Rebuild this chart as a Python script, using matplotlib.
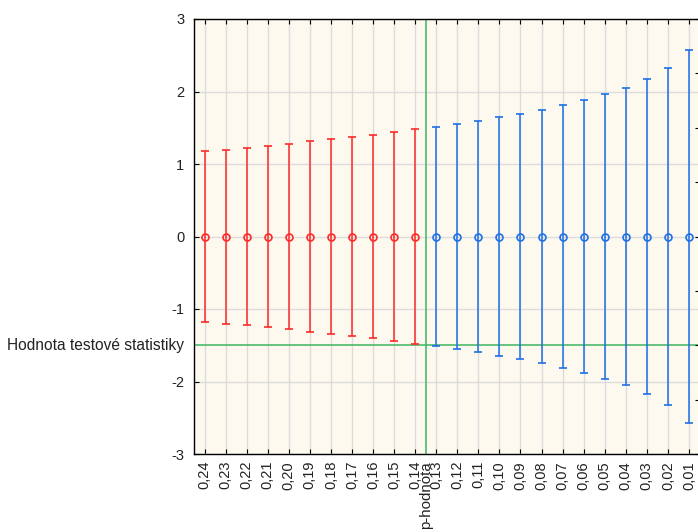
import matplotlib
matplotlib.use("Agg")
import matplotlib.pyplot as plt
import numpy as np

plt.rcParams['font.family'] = ['Liberation Sans', 'DejaVu Sans']
plt.rcParams['axes.unicode_minus'] = False

categories = ["0,24", "0,23", "0,22", "0,21", "0,20", "0,19", "0,18", "0,17", "0,16", "0,15", "0,14",
              "0,13", "0,12", "0,11", "0,10", "0,09", "0,08", "0,07", "0,06", "0,05", "0,04", "0,03", "0,02", "0,01"]
centers = [0.0] * 24
half_widths = [1.175, 1.200, 1.227, 1.254, 1.282, 1.311, 1.341, 1.372, 1.405, 1.440, 1.476,
               1.514, 1.555, 1.598, 1.645, 1.695, 1.751, 1.812, 1.881, 1.960, 2.054, 2.170, 2.326, 2.576]
n_red = 11
test_stat = -1.5
p_label = "p-hodnota"
stat_label = "Hodnota testové statistiky"

fig = plt.figure(figsize=(6.98, 5.32), dpi=100)
ax = fig.add_axes([194/698, 1 - 454/532, 505.5/698, 435/532])
ax.set_facecolor('#fdf9ee')

x = np.arange(len(categories))
red = '#ff2a2a'
blue = '#1f6fe6'
ax.errorbar(x[:n_red], centers[:n_red], yerr=half_widths[:n_red], fmt='o', color=red,
            mfc='none', mec=red, ms=5, mew=1.2, elinewidth=1.1, capsize=3.2, capthick=1.1, zorder=3)
ax.errorbar(x[n_red:], centers[n_red:], yerr=half_widths[n_red:], fmt='o', color=blue,
            mfc='none', mec=blue, ms=5, mew=1.2, elinewidth=1.1, capsize=3.2, capthick=1.1, zorder=3)

green = '#3cb562'
ax.axhline(test_stat, color=green, lw=1.1, zorder=2)
ax.axvline(n_red - 0.5, color=green, lw=1.1, zorder=2)

ax.set_xlim(-0.5, len(categories) - 0.5)
ax.set_ylim(-3, 3)
ax.set_yticks(range(-3, 4))
ax.set_xticks(x)
ax.set_xticklabels(categories, rotation=90, fontsize=10.5, color='#222222')
ax.tick_params(axis='x', direction='in', length=3.5, pad=5, top=True)
ax.tick_params(axis='y', direction='in', length=3.5, pad=7, labelsize=10.5, labelcolor='#222222')
ax.grid(True, color='#dcdcdc', lw=1.0, zorder=0)
ax.set_axisbelow(True)
for s in ax.spines.values():
    s.set_color('#333333')
    s.set_linewidth(1.0)

ax2 = ax.twinx()
ax2.set_ylim(-4, 4)
ax2.set_yticks(range(-4, 5))
ax2.tick_params(axis='y', direction='in', length=3.5, labelright=False)

ax.text(n_red - 0.5, -0.018, p_label, transform=ax.get_xaxis_transform(), rotation=90,
        ha='center', va='top', fontsize=10.8, color='#222222')
ax.text(-0.02, test_stat, stat_label, transform=ax.get_yaxis_transform(), ha='right', va='center',
        fontsize=11.2, color='#222222')

fig.savefig("out.png", dpi=100)
